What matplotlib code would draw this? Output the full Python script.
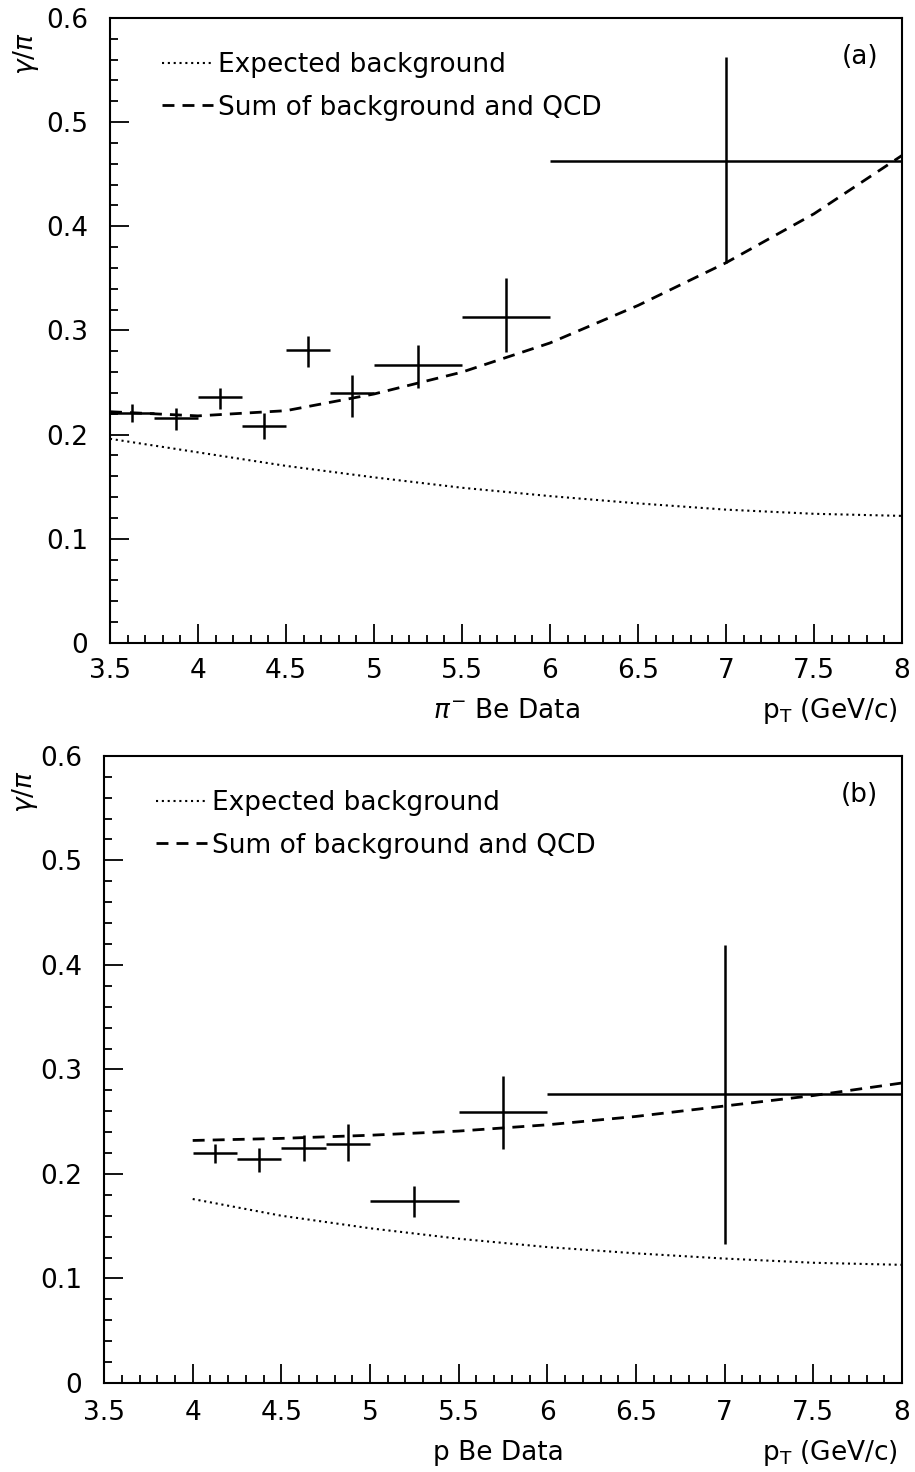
import numpy as np
import matplotlib
matplotlib.use('Agg')
from matplotlib import pyplot as plt
from matplotlib.ticker import MultipleLocator

# ---- panel (a): pi- Be data ----
a_x = [3.625, 3.875, 4.125, 4.375, 4.625, 4.875, 5.25, 5.75, 7.0]
a_xlo = [3.5, 3.75, 4.0, 4.25, 4.5, 4.75, 5.0, 5.5, 6.0]
a_xhi = [3.75, 4.0, 4.25, 4.5, 4.75, 5.0, 5.5, 6.0, 8.0]
a_y = [0.221, 0.216, 0.236, 0.208, 0.281, 0.240, 0.267, 0.313, 0.463]
a_ylo = [0.212, 0.204, 0.225, 0.196, 0.265, 0.217, 0.245, 0.279, 0.365]
a_yhi = [0.229, 0.226, 0.245, 0.221, 0.295, 0.257, 0.286, 0.350, 0.563]

a_curve_x = [3.5, 4.0, 4.5, 5.0, 5.5, 6.0, 6.5, 7.0, 7.5, 8.0]
a_bkg = [0.196, 0.183, 0.170, 0.159, 0.149, 0.141, 0.134, 0.128, 0.124, 0.122]
a_sum = [0.222, 0.218, 0.223, 0.239, 0.260, 0.288, 0.324, 0.365, 0.412, 0.468]

# ---- panel (b): p Be data ----
b_x = [4.125, 4.375, 4.625, 4.875, 5.25, 5.75, 7.0]
b_xlo = [4.0, 4.25, 4.5, 4.75, 5.0, 5.5, 6.0]
b_xhi = [4.25, 4.5, 4.75, 5.0, 5.5, 6.0, 8.0]
b_y = [0.220, 0.214, 0.225, 0.229, 0.174, 0.259, 0.276]
b_ylo = [0.210, 0.202, 0.212, 0.212, 0.159, 0.224, 0.133]
b_yhi = [0.229, 0.225, 0.237, 0.248, 0.188, 0.294, 0.419]

b_curve_x = [4.0, 4.5, 5.0, 5.5, 6.0, 6.5, 7.0, 7.5, 8.0]
b_bkg = [0.176, 0.160, 0.148, 0.138, 0.130, 0.124, 0.119, 0.115, 0.113]
b_sum = [0.232, 0.234, 0.237, 0.241, 0.247, 0.255, 0.265, 0.275, 0.287]

FS = 19

def panel(ax, x, xlo, xhi, y, ylo, yhi, cx, bkg, tot, tag, dataname,
          namex, namey, ylx, xpad):
    x = np.array(x); y = np.array(y)
    xerr = [x - np.array(xlo), np.array(xhi) - x]
    yerr = [y - np.array(ylo), np.array(yhi) - y]
    ax.plot(cx, bkg, color='black', lw=1.5, linestyle=(0, (1, 1.8)),
            label='Expected background')
    ax.plot(cx, tot, color='black', lw=2.0, linestyle=(0, (4.3, 2.9)),
            label='Sum of background and QCD')
    ax.errorbar(x, y, xerr=xerr, yerr=yerr, fmt='none', ecolor='black',
                elinewidth=1.8, capsize=0)
    ax.set_xlim(3.5, 8)
    ax.set_ylim(0, 0.6)
    ax.xaxis.set_minor_locator(MultipleLocator(0.1))
    ax.yaxis.set_minor_locator(MultipleLocator(0.02))
    ax.tick_params(which='both', direction='in', top=False, right=False,
                   labelsize=FS, width=1.3)
    ax.tick_params(which='major', length=14)
    ax.tick_params(axis='x', which='major', pad=xpad)
    ax.tick_params(axis='y', which='major', pad=16)
    ax.tick_params(which='minor', length=6)
    ax.set_xticks(np.arange(3.5, 8.01, 0.5))
    ax.set_xticklabels(['3.5', '4', '4.5', '5', '5.5', '6', '6.5', '7', '7.5', '8'])
    ax.set_yticks(np.arange(0, 0.61, 0.1))
    ax.set_yticklabels(['0', '0.1', '0.2', '0.3', '0.4', '0.5', '0.6'])
    for s in ax.spines.values():
        s.set_linewidth(1.5)
    ax.legend(loc='upper left', bbox_to_anchor=(0.052, 0.962), frameon=False,
              fontsize=FS, handlelength=1.93, handletextpad=0.2,
              labelspacing=0.62, borderaxespad=0)
    ax.text(0.97, 0.938, tag, transform=ax.transAxes, fontsize=FS,
            ha='right', va='center')
    ax.text(namex, namey, dataname, transform=ax.transAxes, fontsize=FS,
            ha='left', va='center')
    ax.text(0.995, namey, r'p$_{\mathregular{T}}$ (GeV/c)', transform=ax.transAxes,
            fontsize=FS, ha='right', va='center')
    ax.text(ylx, 0.943, r'$\gamma$/$\pi$', transform=ax.transAxes, fontsize=FS,
            rotation=90, ha='center', va='center')

fig = plt.figure(figsize=(9.15, 14.72), dpi=100)
ax1 = fig.add_axes([0.1202, 0.5632, 0.8656, 0.4246])
ax2 = fig.add_axes([0.1137, 0.0605, 0.8721, 0.4260])

panel(ax1, a_x, a_xlo, a_xhi, a_y, a_ylo, a_yhi, a_curve_x, a_bkg, a_sum,
      '(a)', r'$\pi^{-}$ Be Data', 0.408, -0.109, -0.106, 11)
panel(ax2, b_x, b_xlo, b_xhi, b_y, b_ylo, b_yhi, b_curve_x, b_bkg, b_sum,
      '(b)', 'p Be Data', 0.412, -0.112, -0.099, 12)

fig.savefig('out.png', dpi=100)
